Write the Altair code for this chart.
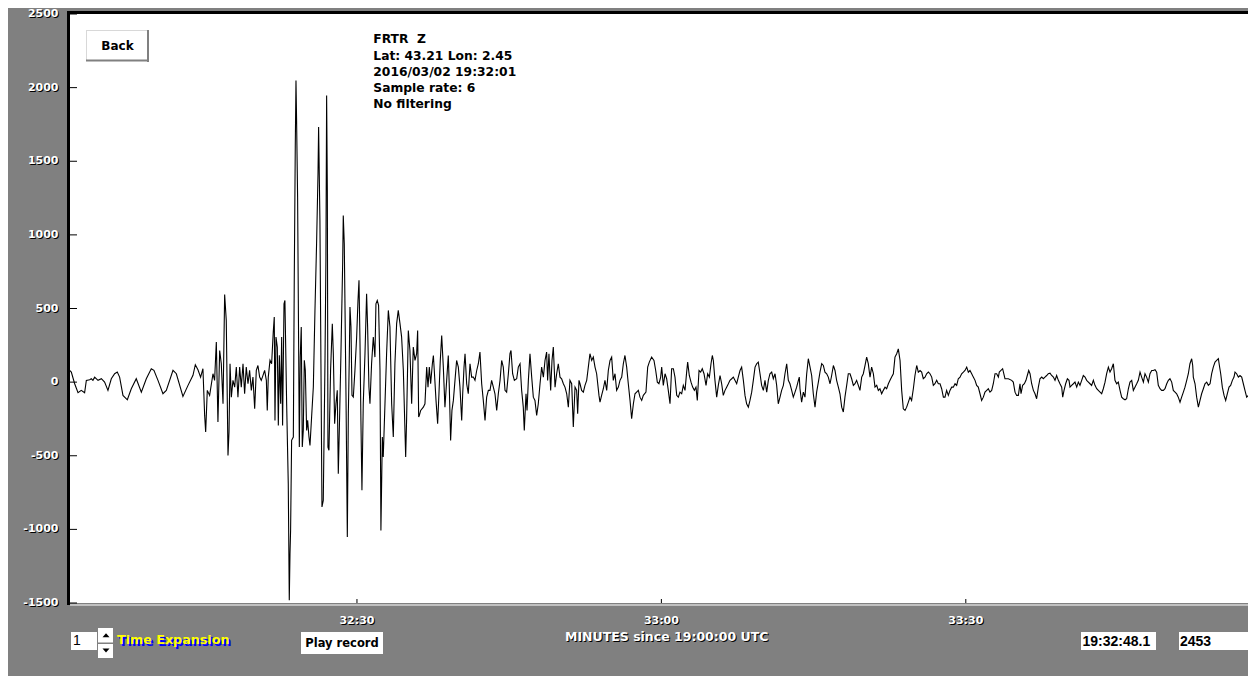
import altair as alt
import pandas as pd

# ---- seismogram trace: (seconds after 19:32:00 UTC, counts) ----
SEG_PRE = [(1.68,80),(1.85,68),(2.18,-11),(2.51,-72),(2.83,-56),(3.16,-72),(3.33,12),(3.66,16),(3.82,23),(3.98,12),
           (4.15,34),(4.48,12),(4.81,23),(5.13,0),(5.46,-56),(5.79,23),(6.12,57),(6.38,68),(6.61,34),(6.94,-90),
           (7.37,-120),(7.76,-45),(8.25,23),(8.75,-68),(9.24,23),(9.73,91),(9.99,80),(10.39,12),(10.88,-79),(11.21,-56),
           (11.87,80),(12.20,57),(12.85,-97),(13.35,-22),(13.84,46),(14.07,118),(14.33,84),(14.59,34),(14.82,91)]
SEG_P = [(14.99,-226),(15.09,-339),(15.25,-56),(15.48,-90),(15.81,57),(15.97,12),(16.14,272),(16.30,-271),(16.47,215),
         (16.63,125),(16.80,-147),(16.96,595),(17.12,419),(17.29,-498),(17.39,-339),(17.49,125),(17.62,-102),(17.78,12),
         (17.95,-34),(18.11,102),(18.27,-102),(18.44,102),(18.60,-34),(18.77,125),(18.93,-79),(19.09,102),(19.26,-11),
         (19.42,80),(19.59,-56),(19.75,34),(19.92,-181),(20.08,80),(20.24,113),(20.41,34),(20.57,12),(20.74,46),
         (20.90,80),(21.07,12),(21.16,-192)]
SEG_S = [(21.26,34),(21.43,148),(21.59,125),(21.75,340),(21.85,442),(21.92,-260),(22.02,306),(22.15,238),(22.25,-294),
         (22.35,182),(22.48,-147),(22.58,306),(22.67,-294),(22.81,532),(22.90,555),(23.07,-147),(23.23,-690),(23.33,-1482),
         (23.40,-1165),(23.46,-1006),(23.56,-395),(23.73,-373),(23.82,691),(23.92,1596),(23.99,2049),(24.05,1777),
         (24.15,1256),(24.32,-441),(24.41,170),(24.51,374),(24.61,-441),(24.71,-328),(24.81,148),(24.91,80),(25.04,-328),
         (25.14,-260),(25.27,-373),(25.37,-430),(25.53,-237),(25.70,-33),(25.86,487),(26.02,940),(26.16,1415),(26.22,1732),
         (26.35,1098),(26.45,125),(26.55,-848),(26.68,-803),(26.85,148),(26.94,826),(27.01,1947),(27.08,1302),(27.14,-441),
         (27.24,-463),(27.40,80),(27.57,397),(27.67,193),(27.80,-282),(27.93,-147),(28.06,-56),(28.16,-622),(28.26,-328),
         (28.42,193),(28.59,804),(28.65,1132),(28.75,940),(28.92,-101),(29.05,-1052),(29.15,-214),(29.24,148),(29.31,510),
         (29.41,374),(29.51,-90),(29.64,-101),(29.80,80),(29.97,306),(30.10,555),(30.20,691),(30.30,261),(30.39,-260),
         (30.49,-735),(30.62,-147),(30.79,193),(30.95,600),(31.05,374),(31.18,-33),(31.28,-147),(31.44,125),(31.61,306),
         (31.77,170),(31.87,532),(32.00,555),(32.13,521),(32.27,80),(32.36,-1007),(32.50,-373),(32.59,-509),(32.76,-147),
         (32.92,193),(33.09,487),(33.25,374),(33.42,-147),(33.58,-373),(33.74,125),(33.91,397),(34.07,487),(34.24,397),
         (34.40,306),(34.57,80),(34.80,-509),(34.89,-260),(35.06,351),(35.22,215),(35.39,-147),(35.55,238),(35.72,148),
         (35.88,193),(35.98,351),(36.08,-237)]
SEG_CODA1 = [(36.15,-226),(36.28,-192),(36.54,-170),(36.70,-147),(36.87,102),(37.00,-34),(37.13,102),(37.26,-11),
             (37.43,125),(37.53,181),(37.62,79),(37.79,-124),(37.95,-283),(38.08,-79),(38.21,147),(38.35,317),(38.51,102),
             (38.67,-170),(38.84,12),(39.00,181),(39.10,-34),(39.23,-396),(39.36,-192),(39.50,-124),(39.66,12),(39.82,147),
             (39.99,102),(40.15,-34),(40.32,-260),(40.42,-79),(40.55,102),(40.65,193),(40.81,-11),(40.97,-79),(41.14,125),
             (41.30,34),(41.47,34),(41.63,12),(41.80,79),(41.96,125),(42.12,204),(42.29,-11),(42.45,-124),(42.62,-260),
             (42.78,-102),(42.95,-56),(43.11,-56),(43.27,12),(43.44,-34),(43.60,-79),(43.77,-192),(43.93,-79),(44.10,12),
             (44.26,147),(44.42,102),(44.59,-56),(44.75,-68),(44.92,57),(45.08,193),(45.18,215),(45.34,57),(45.51,12),
             (45.74,23),(45.90,102),(46.07,125),(46.23,-56),(46.39,-170),(46.49,-328),(46.66,-79),(46.76,-192),(46.89,12),
             (47.05,193),(47.22,34),(47.38,-102),(47.54,-124),(47.71,-226),(47.87,-147),(48.04,-11),(48.20,102),(48.37,34),
             (48.53,147),(48.69,204),(48.79,12),(48.92,193),(49.09,-56),(49.22,147),(49.35,238),(49.52,-34),(49.68,57),
             (49.84,125),(50.01,34),(50.17,23),(50.34,-11),(50.50,-34),(50.67,-79),(50.83,-170),(50.99,12),(51.16,-11),
             (51.32,-305),(51.49,-34),(51.65,-56),(51.75,-215),(51.88,12),(51.98,-11),(52.14,-56),(52.31,-68),(52.47,-22),
             (52.64,12),(52.80,102),(52.96,193),(53.13,147),(53.29,170),(53.46,102),(53.62,57),(53.85,-90)]
SEG_CODA2 = [(53.95,-136),(54.11,-90),(54.28,-45),(54.44,12),(54.61,-56),(54.77,79),(54.94,147),(55.10,170),(55.26,12),
             (55.43,57),(55.59,-56),(55.76,-34),(55.92,12),(56.09,34),(56.25,125),(56.41,181),(56.58,102),(56.74,-11),
             (56.91,-124),(57.07,-249),(57.24,-147),(57.40,-79),(57.56,-68),(57.73,-56),(57.89,-102),(58.06,-124),
             (58.22,-90),(58.48,-68),(58.65,102),(58.81,136),(59.04,170),(59.27,147),(59.44,79),(59.60,0),(59.76,-11),
             (59.93,34),(60.03,102),(60.19,-22),(60.36,57),(60.52,23),(60.68,-56),(60.85,-147),(61.01,91),(61.18,91),
             (61.34,34),(61.51,-90),(61.67,-102),(61.83,-68),(62.00,-79),(62.16,-22),(62.33,-56),(62.49,68),(62.59,136),
             (62.75,45),(62.92,0),(63.08,-34),(63.25,-56),(63.41,-34),(63.54,-124),(63.71,79),(63.87,68),(64.03,91),
             (64.20,57),(64.40,-22),(64.56,57),(64.73,34),(64.89,125),(65.02,181),(65.12,147),(65.28,12),(65.45,-102),
             (65.61,-22),(65.78,45),(65.94,-11),(66.10,-90),(66.27,-56),(66.43,-34),(66.60,-11),(66.76,12),(66.93,23),
             (67.09,34),(67.25,12),(67.42,-11),(67.58,34),(67.75,79),(67.91,102),(68.08,12),(68.24,-90),(68.40,-147),
             (68.57,-170),(68.73,-124),(68.90,-68),(69.06,12),(69.23,102),(69.39,125),(69.55,136),(69.72,57),(69.88,-22),
             (70.05,-56),(70.21,12),(70.38,-68),(70.54,12),(70.70,57),(70.87,68),(71.03,23),(71.20,57),(71.36,-22),
             (71.52,-147),(71.69,-102),(71.85,-56),(72.02,-22),(72.18,57),(72.35,125),(72.51,12),(72.67,-11),(72.84,-56),
             (73.00,-102),(73.17,-68),(73.33,-34),(73.50,12),(73.59,34)]
SEG_CODA3 = [(73.66,-45),(73.82,-136),(73.99,-68),(74.15,-102),(74.32,57),(74.48,159),(74.65,102),(74.81,45),(74.97,-79),
             (75.14,-170),(75.30,-68),(75.47,0),(75.63,68),(75.80,125),(75.96,113),(76.12,68),(76.29,57),(76.45,34),
             (76.62,-11),(76.78,45),(76.95,113),(77.11,79),(77.27,12),(77.44,-34),(77.60,-79),(77.77,-170),(77.93,-203),
             (78.09,-102),(78.26,-22),(78.42,57),(78.59,57),(78.75,23),(78.92,-22),(79.08,-11),(79.24,12),(79.41,-22),
             (79.57,-56),(79.74,34),(79.90,57),(80.07,113),(80.23,170),(80.39,125),(80.56,34),(80.72,102),(80.89,57),
             (81.05,-34),(81.22,-22),(81.38,-56),(81.54,-45),(81.71,-79),(81.87,-56),(82.04,-34),(82.20,-45),(82.37,-11),
             (82.53,12),(82.69,34),(82.86,57),(83.02,170),(83.19,193),(83.35,226),(83.52,147),(83.68,-56),(83.84,-181),
             (84.01,-192),(84.17,-170),(84.34,-136),(84.50,-102),(84.66,-124),(84.83,-45),(84.99,45),(85.16,113),(85.32,68),
             (85.49,79),(85.65,68),(85.81,23),(85.98,34),(86.14,57),(86.31,68),(86.47,57),(86.64,34),(86.80,-22),(86.96,-11),
             (87.13,12),(87.29,-11),(87.46,-11),(87.62,-45),(87.79,-102),(87.95,-102),(88.11,-56),(88.28,-90),(88.44,-56),
             (88.61,-34),(88.77,-34),(88.94,-11),(89.10,-22),(89.26,23),(89.43,34),(89.59,57),(89.76,68),(89.92,79),
             (90.09,102),(90.25,68),(90.41,79),(90.58,57),(90.74,34),(90.91,12),(91.07,-22),(91.23,-34),(91.40,-79),
             (91.56,-124),(91.73,-102),(91.89,-68),(92.06,-56),(92.22,-45),(92.38,-68),(92.55,-56),(92.71,-11),(92.88,57),
             (93.04,57),(93.21,34),(93.30,68)]
SEG_CODA4 = [(93.63,91),(93.86,23),(94.19,23),(94.52,12),(94.68,0),(94.85,-68),(95.01,-90),(95.18,-90),(95.34,-11),
             (95.44,-79),(95.60,-22),(95.77,-11),(95.93,12),(96.06,45),(96.20,79),(96.33,57),(96.49,-11),(96.66,-56),
             (96.82,-79),(96.98,-113),(97.15,-34),(97.31,23),(97.48,34),(97.64,23),(97.80,34),(97.97,45),(98.13,57),
             (98.30,61),(98.46,45),(98.63,34),(98.79,12),(98.95,45),(99.12,12),(99.28,-11),(99.45,-34),(99.55,-102),
             (99.68,-56),(99.84,-11),(100.01,23),(100.17,12),(100.27,-34),(100.43,-22),(100.60,-11),(100.76,0),(100.93,-34),
             (101.09,0),(101.25,-22),(101.42,12),(101.58,45),(101.75,34),(101.91,12),(102.08,0),(102.24,-11),(102.40,-22),
             (102.57,12),(102.73,-22),(102.90,-45),(103.06,-56),(103.23,-68),(103.39,-79),(103.55,-45),(103.72,0),
             (103.88,57),(104.05,102),(104.21,68),(104.37,91),(104.54,125),(104.70,12),(104.87,-11),(105.03,0),(105.20,-56),
             (105.36,-102),(105.52,-113),(105.69,-120),(105.85,-113),(106.02,-45),(106.18,0),(106.35,12),(106.51,-56),
             (106.67,-34),(106.84,-11),(107.00,12),(107.17,68),(107.33,34),(107.50,0),(107.66,57),(107.82,34),(107.99,0),
             (108.15,57),(108.32,79),(108.48,79),(108.65,84),(108.81,68),(108.97,-22),(109.14,-45),(109.30,-56),(109.47,-56),
             (109.63,-45),(109.80,-11),(109.96,12),(110.12,23),(110.29,0),(110.45,-56),(110.62,-68),(110.78,-79),
             (110.94,-102),(111.11,-136),(111.27,-102),(111.44,-68),(111.60,-34),(111.77,12),(111.93,57),(112.09,125),
             (112.26,159),(112.36,113),(112.42,34),(112.59,-11),(112.75,-102),(112.92,-170),(113.08,-124),(113.24,-79),
             (113.41,-45),(113.57,-11),(113.74,0),(113.90,-22),(114.07,-11),(114.23,57),(114.39,102),(114.56,136),
             (114.72,147),(114.89,159),(114.99,113),(115.12,57),(115.28,-34),(115.45,-90),(115.61,-124),(115.77,-79),
             (115.94,-34),(116.10,-22),(116.27,12),(116.43,34),(116.53,68),(116.69,57),(116.86,34),(117.02,45),(117.19,34),
             (117.35,-11),(117.51,-56),(117.68,-102),(117.84,-90),(118.01,-124),(118.17,-79),(118.34,-34),(118.50,57)]

TRACE = SEG_PRE + SEG_P + SEG_S + SEG_CODA1 + SEG_CODA2 + SEG_CODA3 + SEG_CODA4

Y_TICKS = [-1500, -1000, -500, 0, 500, 1000, 1500, 2000, 2500]
X_TICKS = [30, 60, 90]
X_TICK_LABELS = ["32:30", "33:00", "33:30"]
INFO_LINES = ["FRTR\u00a0 Z", "Lat: 43.21 Lon: 2.45", "2016/03/02 19:32:01", "Sample rate: 6", "No filtering"]
X_TITLE = "MINUTES since 19:00:00 UTC"
TIME_BOX = "19:32:48.1"
COUNT_BOX = "2453"
EXPANSION = "1"

W, H = 1178, 589
X_DOMAIN = [1.72, 117.81]
Y_DOMAIN = [-1500, 2500]
FONT = "DejaVu Sans"
BOXFONT = "Liberation Sans"

trace_df = pd.DataFrame(TRACE, columns=["t", "v"])
ytick_df = pd.DataFrame({"v": Y_TICKS, "label": [str(v) for v in Y_TICKS]})
xtick_df = pd.DataFrame({"t": X_TICKS, "label": X_TICK_LABELS})
one = pd.DataFrame({"k": [0]})

xs = alt.Scale(domain=X_DOMAIN, nice=False, zero=False)
ys = alt.Scale(domain=Y_DOMAIN, nice=False, zero=False)

layers = []

# trace
layers.append(alt.Chart(trace_df).mark_line(color="black", strokeWidth=1.1, clip=True).encode(
    x=alt.X("t:Q", scale=xs, axis=None), y=alt.Y("v:Q", scale=ys, axis=None)))

# frame
layers.append(alt.Chart(one).mark_rule(color="#c0c0c0", strokeWidth=2).encode(
    x=alt.value(0), x2=alt.value(W + 20), y=alt.value(591)))
layers.append(alt.Chart(one).mark_rule(color="black", strokeWidth=3).encode(
    x=alt.value(-3), x2=alt.value(W + 20), y=alt.value(-1.5)))
layers.append(alt.Chart(one).mark_rule(color="black", strokeWidth=3).encode(
    x=alt.value(-1.5), y=alt.value(-3), y2=alt.value(591)))

# y ticks and labels
layers.append(alt.Chart(ytick_df).mark_rule(color="black", strokeWidth=1).encode(
    y=alt.Y("v:Q", scale=ys, axis=None), x=alt.value(0), x2=alt.value(7)))
for col, dx, dy in [("black", 1, 4), ("white", 0, 3)]:
    layers.append(alt.Chart(ytick_df).mark_text(
        align="right", baseline="alphabetic", font=FONT, fontWeight="bold", fontSize=11,
        color=col, dx=dx, dy=dy).encode(
        y=alt.Y("v:Q", scale=ys, axis=None), x=alt.value(-11.5), text="label:N"))

# x ticks and labels
layers.append(alt.Chart(xtick_df).mark_rule(color="black", strokeWidth=1).encode(
    x=alt.X("t:Q", scale=xs, axis=None), y=alt.value(H - 4), y2=alt.value(H)))
for col, d in [("black", 1), ("white", 0)]:
    layers.append(alt.Chart(xtick_df).mark_text(
        align="center", baseline="alphabetic", font=FONT, fontWeight="bold", fontSize=11,
        color=col, dx=d, dy=d).encode(
        x=alt.X("t:Q", scale=xs, axis=None), y=alt.value(610), text="label:N"))
    layers.append(alt.Chart(one).mark_text(
        align="center", baseline="alphabetic", font=FONT, fontWeight="bold", fontSize=12.5,
        color=col, dx=d, dy=d).encode(
        x=alt.value(596.7), y=alt.value(626.7), text=alt.value(X_TITLE)))

# info block
layers.append(alt.Chart(one).mark_text(
    align="left", baseline="alphabetic", font=FONT, fontWeight="bold", fontSize=12.3,
    lineBreak="\n", lineHeight=16.3, color="black").encode(
    x=alt.value(303.3), y=alt.value(29.3), text=alt.value("\n".join(INFO_LINES))))

# Back button
layers.append(alt.Chart(one).mark_rect(fill="white").encode(
    x=alt.value(16), x2=alt.value(78), y=alt.value(16), y2=alt.value(47)))
layers.append(alt.Chart(one).mark_rule(color="#d8d8d8", strokeWidth=1).encode(
    x=alt.value(16), x2=alt.value(78), y=alt.value(16.5)))
layers.append(alt.Chart(one).mark_rule(color="#d8d8d8", strokeWidth=1).encode(
    x=alt.value(16.5), y=alt.value(16), y2=alt.value(47)))
layers.append(alt.Chart(one).mark_rule(color="#808080", strokeWidth=2).encode(
    x=alt.value(78), y=alt.value(16), y2=alt.value(48)))
layers.append(alt.Chart(one).mark_rule(color="#808080", strokeWidth=2).encode(
    x=alt.value(16), x2=alt.value(79), y=alt.value(46.5)))
layers.append(alt.Chart(one).mark_text(
    align="center", baseline="alphabetic", font=FONT, fontWeight="bold", fontSize=12, color="black").encode(
    x=alt.value(47.5), y=alt.value(36), text=alt.value("Back")))

# bottom controls (white boxes)
for x0, x1, y0, y1 in [(1, 27, 618, 636), (28, 43, 614, 628.5), (28, 43, 630, 644),
                       (231, 313, 618, 640), (1011, 1086, 618, 636), (1109, 1200, 618, 636)]:
    layers.append(alt.Chart(one).mark_rect(fill="white").encode(
        x=alt.value(x0), x2=alt.value(x1), y=alt.value(y0), y2=alt.value(y1)))

layers.append(alt.Chart(one).mark_point(shape="M-1,0.55L1,0.55L0,-0.55Z", filled=True, color="black",
                                         size=49, opacity=1).encode(x=alt.value(36), y=alt.value(621.3)))
layers.append(alt.Chart(one).mark_point(shape="M-1,-0.55L1,-0.55L0,0.55Z", filled=True, color="black",
                                         size=49, opacity=1).encode(x=alt.value(36), y=alt.value(636.5)))

layers.append(alt.Chart(one).mark_text(
    align="left", baseline="alphabetic", font=BOXFONT, fontSize=14, color="black").encode(
    x=alt.value(3), y=alt.value(631), text=alt.value(EXPANSION)))
for col, d in [("#0000ff", 2), ("#ffff00", 0)]:
    layers.append(alt.Chart(one).mark_text(
        align="left", baseline="alphabetic", font=FONT, fontWeight="bold", fontSize=12.7,
        color=col, dx=d, dy=d).encode(
        x=alt.value(47), y=alt.value(630), text=alt.value("Time Expansion")))
layers.append(alt.Chart(one).mark_text(
    align="center", baseline="alphabetic", font=FONT, fontWeight="bold", fontSize=11.5, color="black").encode(
    x=alt.value(272), y=alt.value(633), text=alt.value("Play record")))
layers.append(alt.Chart(one).mark_text(
    align="left", baseline="alphabetic", font=BOXFONT, fontWeight="bold", fontSize=14, color="black").encode(
    x=alt.value(1012.5), y=alt.value(631.7), text=alt.value(TIME_BOX)))
layers.append(alt.Chart(one).mark_text(
    align="left", baseline="alphabetic", font=BOXFONT, fontWeight="bold", fontSize=14, color="black").encode(
    x=alt.value(1110), y=alt.value(631.7), text=alt.value(COUNT_BOX)))

chart = alt.layer(*layers).properties(
    width=W, height=H, background="#808080",
    padding={"left": 62, "top": 6, "right": 0, "bottom": 73},
    autosize=alt.AutoSizeParams(type="none"),
).configure_view(fill="white", strokeWidth=0)

chart.save("out.html", embed_options={"renderer": "svg", "actions": False})
